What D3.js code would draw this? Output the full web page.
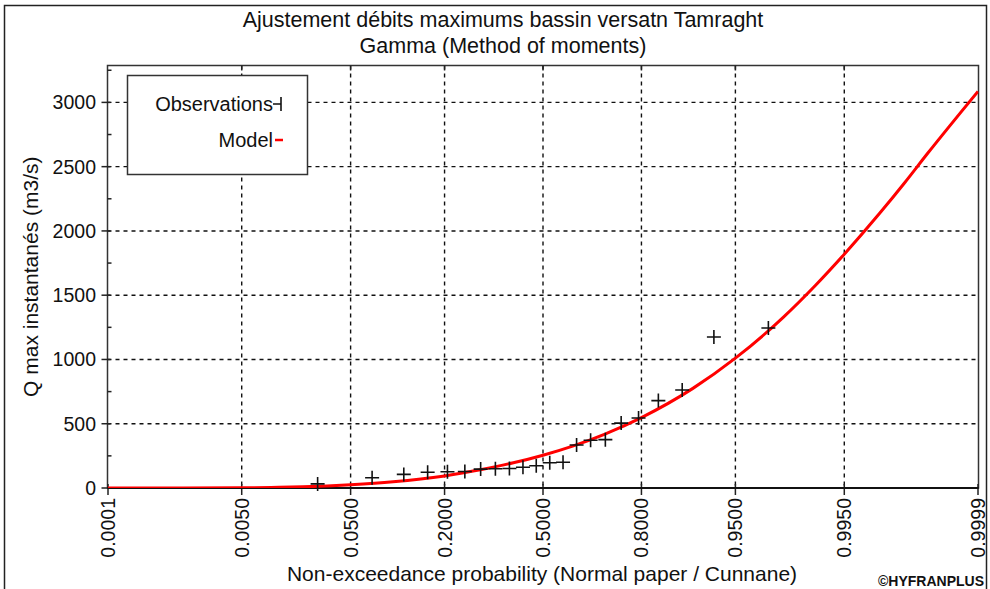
<!DOCTYPE html>
<html>
<head>
<meta charset="utf-8">
<script src="https://cdn.jsdelivr.net/npm/d3@7"></script>
<style>
  body { margin: 0; background: #fff; }
  svg { font-family: "Liberation Sans", Arial, sans-serif; }
  .tick-label { font-size: 19.5px; fill: #111; }
  .labels { font-size: 21px; fill: #111; }
  .title { font-size: 21.5px; fill: #111; }
</style>
</head>
<body>
<svg width="990" height="589"></svg>
<script>
// probability ticks on the normal-paper axis
const probTicks = [0.0001, 0.0050, 0.0500, 0.2000, 0.5000, 0.8000, 0.9500, 0.9950, 0.9999];
const qTicks = [0, 500, 1000, 1500, 2000, 2500, 3000];

// observations (Cunnane plotting positions, n = 22)
const obsProb = [0.027, 0.072, 0.117, 0.162, 0.207, 0.252, 0.297, 0.342, 0.387, 0.432, 0.477,
	0.523, 0.568, 0.613, 0.658, 0.703, 0.748, 0.793, 0.838, 0.883, 0.928, 0.973];
const obsQ = [32, 80, 106, 122, 126, 128, 147, 150, 152, 162, 173,
	196, 200, 335, 372, 376, 505, 545, 680, 762, 1175, 1245];

// fitted gamma model
const modelProb = [0.0001, 0.001, 0.005, 0.01, 0.02, 0.05, 0.1, 0.2, 0.3, 0.4, 0.5,
	0.6, 0.7, 0.8, 0.9, 0.95, 0.98, 0.99, 0.995, 0.998, 0.999, 0.9995, 0.9999];
const modelQ = [0, 0.2, 1.7, 4, 9, 25, 48, 94, 144, 196, 255,
	326, 418, 548, 775, 1010, 1328, 1574, 1819, 2137, 2373, 2606, 3086];

const W = 990, H = 589,
	plot = {left: 107.5, right: 978.5, top: 65.5, bottom: 488};

// inverse standard normal (Acklam)
function normInv(p) {
	const a = [-39.69683028665376, 220.9460984245205, -275.9285104469687, 138.3577518672690, -30.66479806614716, 2.506628277459239],
		b = [-54.47609879822406, 161.5858368580409, -155.6989798598866, 66.80131188771972, -13.28068155288572],
		c = [-0.007784894002430293, -0.3223964580411365, -2.400758277161838, -2.549732539343734, 4.374664141464968, 2.938163982698783],
		d = [0.007784695709041462, 0.3224671290700398, 2.445134137142996, 3.754408661907416];
	const pl = 0.02425;
	let q, r;
	if (p < pl) {
		q = Math.sqrt(-2 * Math.log(p));
		return (((((c[0]*q+c[1])*q+c[2])*q+c[3])*q+c[4])*q+c[5]) / ((((d[0]*q+d[1])*q+d[2])*q+d[3])*q+1);
	}
	if (p > 1 - pl) {
		q = Math.sqrt(-2 * Math.log(1 - p));
		return -(((((c[0]*q+c[1])*q+c[2])*q+c[3])*q+c[4])*q+c[5]) / ((((d[0]*q+d[1])*q+d[2])*q+d[3])*q+1);
	}
	q = p - 0.5; r = q * q;
	return (((((a[0]*r+a[1])*r+a[2])*r+a[3])*r+a[4])*r+a[5])*q / (((((b[0]*r+b[1])*r+b[2])*r+b[3])*r+b[4])*r+1);
}

const zScale = d3.scaleLinear()
	.domain([normInv(0.0001), normInv(0.9999)])
	.range([108, 978]);
const xScale = p => zScale(normInv(p));

const yScale = d3.scaleLinear()
	.domain([0, 3287])
	.range([plot.bottom, plot.top]);

const svg = d3.select('svg');

// outer frame
svg.append('rect')
	.attr('x', 4.5).attr('y', 5.5)
	.attr('width', 982).attr('height', 600)
	.attr('fill', 'none').attr('stroke', '#222').attr('stroke-width', 1.5);

// titles
svg.append('text')
	.attr('class', 'title')
	.attr('x', 503).attr('y', 27)
	.attr('text-anchor', 'middle')
	.text('Ajustement débits maximums bassin versatn Tamraght');
svg.append('text')
	.attr('class', 'title')
	.attr('x', 503).attr('y', 53)
	.attr('text-anchor', 'middle')
	.text('Gamma (Method of moments)');

const chart = svg.append('g').attr('id', 'chart');

svg.append('clipPath').attr('id', 'clip')
	.append('rect')
	.attr('x', plot.left).attr('y', plot.top)
	.attr('width', plot.right - plot.left).attr('height', plot.bottom - plot.top);

// grid lines
chart.selectAll('.vgrid')
	.data(probTicks.slice(1, -1))
	.enter().append('line')
	.attr('x1', d => xScale(d)).attr('x2', d => xScale(d))
	.attr('y1', plot.top).attr('y2', plot.bottom)
	.attr('stroke', '#111').attr('stroke-width', 1.4)
	.attr('stroke-dasharray', '4,4');

chart.selectAll('.hgrid')
	.data(qTicks.slice(1))
	.enter().append('line')
	.attr('x1', plot.left).attr('x2', plot.right)
	.attr('y1', d => yScale(d)).attr('y2', d => yScale(d))
	.attr('stroke', '#111').attr('stroke-width', 1.4)
	.attr('stroke-dasharray', '4,4');

// plot frame
chart.append('rect')
	.attr('x', plot.left).attr('y', plot.top)
	.attr('width', plot.right - plot.left).attr('height', plot.bottom - plot.top)
	.attr('fill', 'none').attr('stroke', '#333').attr('stroke-width', 1.5);

// y ticks, major and minor
chart.selectAll('.ytick')
	.data(qTicks)
	.enter().append('line')
	.attr('x1', plot.left - 6).attr('x2', plot.left + 3)
	.attr('y1', d => yScale(d)).attr('y2', d => yScale(d))
	.attr('stroke', '#222').attr('stroke-width', 1.5);
chart.selectAll('.yminor')
	.data(d3.range(250, 3287, 500))
	.enter().append('line')
	.attr('x1', plot.left).attr('x2', plot.left + 4)
	.attr('y1', d => yScale(d)).attr('y2', d => yScale(d))
	.attr('stroke', '#222').attr('stroke-width', 1.5);

svg.selectAll('.ylab')
	.data(qTicks)
	.enter().append('text')
	.attr('class', 'tick-label')
	.attr('x', 96).attr('y', d => yScale(d))
	.attr('dy', '0.36em')
	.attr('text-anchor', 'end')
	.text(d => d);

// x ticks (bottom and top)
chart.selectAll('.xtick')
	.data(probTicks)
	.enter().append('line')
	.attr('x1', d => xScale(d)).attr('x2', d => xScale(d))
	.attr('y1', plot.bottom - 4).attr('y2', plot.bottom + 7)
	.attr('stroke', '#222').attr('stroke-width', 1.5);
chart.selectAll('.xtopTick')
	.data(probTicks.slice(1, -1))
	.enter().append('line')
	.attr('x1', d => xScale(d)).attr('x2', d => xScale(d))
	.attr('y1', plot.top).attr('y2', plot.top + 5)
	.attr('stroke', '#222').attr('stroke-width', 1.5);

svg.selectAll('.xlab')
	.data(probTicks)
	.enter().append('text')
	.attr('class', 'tick-label')
	.attr('transform', d => `translate(${xScale(d)}, 498) rotate(-90)`)
	.attr('dy', '0.36em')
	.attr('text-anchor', 'end')
	.text(d => d.toFixed(4));

// bottom axis line, a bit heavier
chart.append('line')
	.attr('x1', plot.left).attr('x2', plot.right)
	.attr('y1', plot.bottom).attr('y2', plot.bottom)
	.attr('stroke', '#111').attr('stroke-width', 2);

// model curve
const line = d3.line()
	.x((d, i) => xScale(modelProb[i]))
	.y(d => yScale(d))
	.curve(d3.curveMonotoneX);

chart.append('path')
	.datum(modelQ)
	.attr('clip-path', 'url(#clip)')
	.attr('d', line)
	.attr('fill', 'none')
	.attr('stroke', '#ff0000')
	.attr('stroke-width', 3);

// observation crosses
chart.selectAll('.obs')
	.data(obsQ)
	.enter().append('path')
	.attr('d', (d, i) => {
		let x = xScale(obsProb[i]), y = yScale(d);
		return `M${x - 7},${y}H${x + 7}M${x},${y - 7}V${y + 7}`;
	})
	.attr('stroke', '#111')
	.attr('stroke-width', 1.6)
	.attr('fill', 'none');

// legend
const legend = svg.append('g').attr('class', 'legend');
legend.append('rect')
	.attr('x', 127.5).attr('y', 75.5)
	.attr('width', 180).attr('height', 99)
	.attr('fill', '#fff').attr('stroke', '#333').attr('stroke-width', 1.5);
legend.append('text')
	.attr('class', 'labels').style('font-size', '20px')
	.attr('x', 273).attr('y', 111)
	.attr('text-anchor', 'end')
	.text('Observations');
legend.append('path')
	.attr('d', 'M273,104H281M281,97V111')
	.attr('stroke', '#111').attr('stroke-width', 1.6).attr('fill', 'none');
legend.append('text')
	.attr('class', 'labels').style('font-size', '20px')
	.attr('x', 273).attr('y', 147)
	.attr('text-anchor', 'end')
	.text('Model');
legend.append('line')
	.attr('x1', 275).attr('x2', 283)
	.attr('y1', 140).attr('y2', 140)
	.attr('stroke', '#ff0000').attr('stroke-width', 2.5);

// axis labels
svg.append('text')
	.attr('class', 'labels')
	.attr('x', -(plot.top + plot.bottom) / 2).attr('y', 38)
	.attr('transform', 'rotate(-90)')
	.attr('text-anchor', 'middle')
	.text('Q max instantanés (m3/s)');

svg.append('text')
	.attr('class', 'labels')
	.attr('x', 542).attr('y', 581)
	.attr('text-anchor', 'middle')
	.text('Non-exceedance probability (Normal paper / Cunnane)');

svg.append('text')
	.attr('x', 984).attr('y', 586)
	.attr('text-anchor', 'end')
	.style('font-size', '14px')
	.style('font-weight', 'bold')
	.attr('fill', '#111')
	.text('©HYFRANPLUS');
</script>
</body>
</html>
